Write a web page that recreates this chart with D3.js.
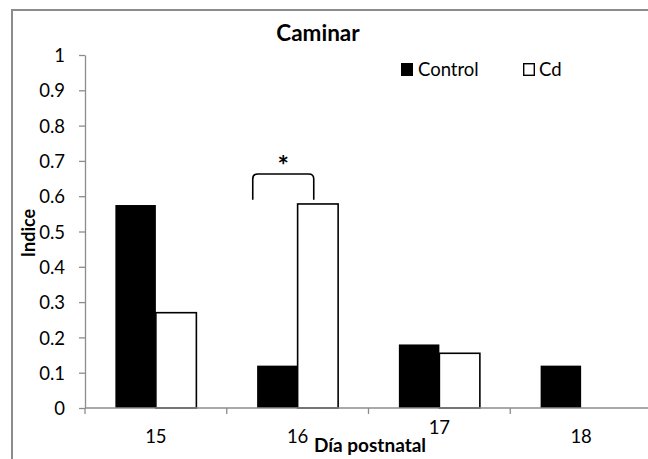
<!DOCTYPE html>
<html>
<head>
<meta charset="utf-8">
<script src="https://cdn.jsdelivr.net/npm/d3@7"></script>
<style>
  body { margin: 0; background: #fff; }
  svg { display: block; font-family: Lato, "Open Sans", sans-serif; }
</style>
</head>
<body>
<svg id="chart" width="648" height="459"></svg>
<script>
const days = ["15", "16", "17", "18"];
const series = ["Control", "Cd"];
const control = [0.575, 0.12, 0.18, 0.12];
const cd = [0.27, 0.578, 0.155, 0];
const yTicks = [0, 0.1, 0.2, 0.3, 0.4, 0.5, 0.6, 0.7, 0.8, 0.9, 1];
const yTickLabels = ["0", "0.1", "0.2", "0.3", "0.4", "0.5", "0.6", "0.7", "0.8", "0.9", "1"];

const svg = d3.select("#chart");

// chart frame (cut off at the right and bottom like the source)
svg.append("path")
  .attr("d", "M12,470 V10 H660")
  .attr("fill", "none")
  .attr("stroke", "#8c8c8c")
  .attr("stroke-width", 2);

const x = d3.scaleBand().domain(days).range([85, 652]);
const bw = x.bandwidth();
const sub = d3.scaleBand().domain(series).range([bw / 2 - 40.5, bw / 2 + 40.5]);
const y = d3.scaleLinear().domain([0, 1]).range([408, 55]);

// y axis
const yAxis = svg.append("g")
  .attr("transform", "translate(85,0)")
  .call(d3.axisLeft(y).tickValues(yTicks).tickSize(6).tickSizeOuter(0)
    .tickFormat((d, i) => yTickLabels[i]));
yAxis.select(".domain").attr("stroke", "#8c8c8c").attr("stroke-width", 1.3);
yAxis.selectAll(".tick line").attr("stroke", "#8c8c8c").attr("stroke-width", 1.3);
yAxis.selectAll(".tick text")
  .attr("x", -20)
  .attr("dy", "0.36em")
  .attr("font-size", 18.5)
  .attr("fill", "#000")
  .attr("font-family", "Lato, 'Open Sans', sans-serif");

// bars
const rows = days.map((d, i) => ({ day: d, Control: control[i], Cd: cd[i] }));
const groups = svg.append("g").selectAll("g")
  .data(rows)
  .join("g")
  .attr("transform", d => `translate(${x(d.day)},0)`);

groups.selectAll("rect")
  .data(d => series.map(s => ({ key: s, value: d[s] })).filter(v => v.value > 0))
  .join("rect")
  .attr("x", d => sub(d.key))
  .attr("y", d => y(d.value))
  .attr("width", sub.bandwidth())
  .attr("height", d => y(0) - y(d.value))
  .attr("fill", d => d.key === "Control" ? "#000" : "#fff")
  .attr("stroke", "#000")
  .attr("stroke-width", d => d.key === "Control" ? 0 : 1.6);

// x axis
const xr = x.range();
svg.append("line")
  .attr("x1", xr[0]).attr("x2", xr[1])
  .attr("y1", y(0)).attr("y2", y(0))
  .attr("stroke", "#8c8c8c").attr("stroke-width", 1.3);

const bounds = days.map(d => x(d)).concat([xr[1]]);
svg.append("g").selectAll("line")
  .data(bounds)
  .join("line")
  .attr("x1", d => d).attr("x2", d => d)
  .attr("y1", y(0)).attr("y2", y(0) + 6)
  .attr("stroke", "#8c8c8c").attr("stroke-width", 1.3);

svg.append("g").selectAll("text")
  .data(days)
  .join("text")
  .attr("x", d => x(d) + bw / 2)
  .attr("y", d => d === "17" ? 434 : 443)
  .attr("text-anchor", "middle")
  .attr("font-size", 18.5)
  .text(d => d);

// axis titles
svg.append("text")
  .attr("x", 370)
  .attr("y", 452)
  .attr("text-anchor", "middle")
  .attr("font-size", 19)
  .attr("font-weight", "bold")
  .text("Día postnatal");

svg.append("text")
  .attr("transform", "translate(35,233) rotate(-90)")
  .attr("text-anchor", "middle")
  .attr("font-size", 18)
  .attr("font-weight", "bold")
  .text("Indice");

// title
svg.append("text")
  .attr("x", 318)
  .attr("y", 41)
  .attr("text-anchor", "middle")
  .attr("font-size", 22.5)
  .attr("font-weight", "bold")
  .text("Caminar");

// legend
const legend = svg.append("g").selectAll("g")
  .data(series)
  .join("g")
  .attr("transform", (d, i) => `translate(${[401, 522][i]},63)`);
legend.append("rect")
  .attr("x", d => d === "Control" ? 0 : 1.7)
  .attr("y", d => d === "Control" ? 0 : 0.7)
  .attr("width", d => d === "Control" ? 12 : 10.6)
  .attr("height", d => d === "Control" ? 13 : 11.6)
  .attr("fill", d => d === "Control" ? "#000" : "#fff")
  .attr("stroke", "#000")
  .attr("stroke-width", d => d === "Control" ? 0 : 1.4);
legend.append("text")
  .attr("x", d => d === "Control" ? 17 : 17)
  .attr("y", 13)
  .attr("font-size", 18.5)
  .text(d => d);

// significance bracket over day 16
const bx0 = x("16") + 26, bx1 = x("16") + 87;
const byTop = y(0.663), byEnd = y(0.59), r = 5;
svg.append("path")
  .attr("d", `M${bx0},${byEnd} V${byTop + r} Q${bx0},${byTop} ${bx0 + r},${byTop}
              H${bx1 - r} Q${bx1},${byTop} ${bx1},${byTop + r} V${byEnd}`)
  .attr("fill", "none")
  .attr("stroke", "#000")
  .attr("stroke-width", 1.6);
svg.append("text")
  .attr("x", (bx0 + bx1) / 2)
  .attr("y", byTop + 1)
  .attr("text-anchor", "middle")
  .attr("font-size", 27)
  .attr("font-weight", "bold")
  .text("*");
</script>
</body>
</html>
